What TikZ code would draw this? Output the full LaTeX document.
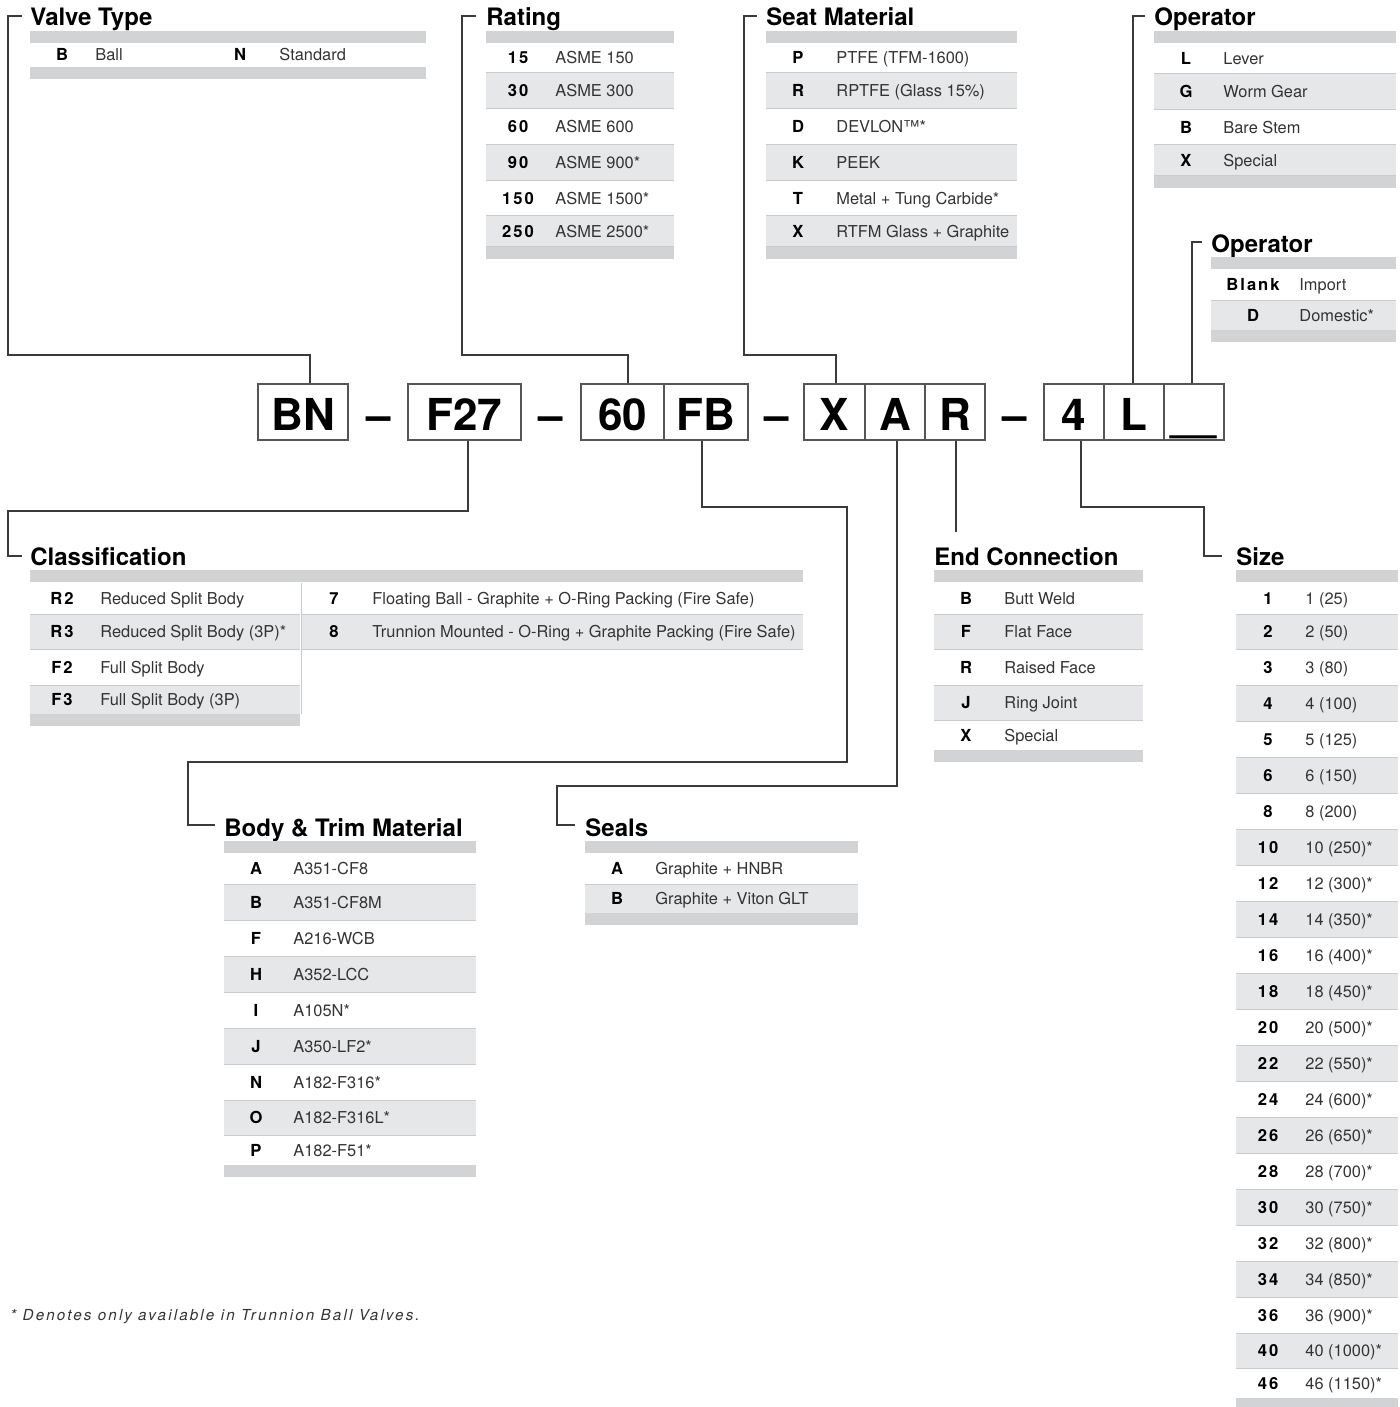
\documentclass[tikz,border=0pt]{standalone}
\usepackage{fontspec}
\setmainfont{TeX Gyre Heros}
\definecolor{bargray}{HTML}{D1D3D4}
\definecolor{rowgray}{HTML}{E6E7E8}
\definecolor{sepgray}{HTML}{C9CACC}
\definecolor{linegray}{HTML}{3A3A3A}
\definecolor{descgray}{HTML}{333333}
\definecolor{boxgray}{HTML}{555555}
\newcommand\titlefont{\fontsize{12}{14}\selectfont\bfseries}
\newcommand\descfont{\fontsize{8.2}{10}\selectfont}
\newcommand\codefont{\fontsize{8.3}{10}\selectfont\bfseries\addfontfeatures{LetterSpace=12}}
\newcommand\bigfont{\fontsize{22}{26}\selectfont\bfseries}
\newcommand\footfont{\fontsize{7.6}{9}\selectfont\itshape\addfontfeatures{LetterSpace=14}}
\tikzset{
  conn/.style={draw=linegray, line width=0.65pt},
  ttl/.style={font=\titlefont, anchor=base west, inner sep=0pt, text=black},
  cd/.style={font=\codefont, anchor=base, inner sep=0pt, text=black},
  ds/.style={font=\descfont, anchor=base west, inner sep=0pt, text=descgray},
  cell/.style={draw=boxgray, line width=0.8pt, minimum height=28pt, inner sep=0pt},
  big/.style={font=\bigfont, anchor=base, inner sep=0pt, text=black},
  foot/.style={font=\footfont, anchor=base west, inner sep=0pt, text=descgray},
  sep/.style={draw=sepgray, line width=0.5pt}
}
% #1 x1, #2 x2, #3 ytop
\newcommand\tbar[3]{\fill[bargray] (#1,#3) rectangle (#2,#3+12);}
% #1 prefix, #2 x1, #3 x2, #4 xcode, #5 xdesc, #6 rows
\newcommand\drawtable[6]{%
  \foreach \ra/\rb/\rc/\rd/\re [count=\i] in {#6} {
    \ifnum\re=1
      \fill[rowgray] (#2,\ra) rectangle (#3,\rb);
      \draw[sep] (#2,\ra) -- (#3,\ra) (#2,\rb) -- (#3,\rb);
    \fi
    \node[cd] (#1c\i) at (#4,{(\ra+\rb)/2+6}) {\rc};
    \node[ds] (#1d\i) at (#5,{(\ra+\rb)/2+6}) {\rd};
  }}
\begin{document}
\begin{tikzpicture}[x=0.5pt,y=-0.5pt]
\useasboundingbox (0,0) rectangle (1400,1407);

% ---------- code boxes ----------
\node[cell, minimum width=45pt] (bn) at (303,412) {};
\node[cell, minimum width=56.5pt] (f27) at (464.5,412) {};
\node[cell, minimum width=41.5pt] (c60) at (622.5,412) {};
\node[cell, minimum width=42pt] (cfb) at (706,412) {};
\node[cell, minimum width=30.5pt] (cx) at (834.5,412) {};
\node[cell, minimum width=30pt] (ca) at (895,412) {};
\node[cell, minimum width=30pt] (cr) at (955,412) {};
\node[cell, minimum width=30pt] (c4) at (1074,412) {};
\node[cell, minimum width=30pt] (cl) at (1134,412) {};
\node[cell, minimum width=30pt] (cu) at (1194,412) {};

\node[big] (tbn) at (303,430) {BN};
\node[big] (tf27) at (464.5,430) {F27};
\node[big] (t60) at (622.5,430) {60};
\node[big] (tfb) at (706,430) {FB};
\node[big] (tx) at (834.5,430) {X};
\node[big] (ta) at (895,430) {A};
\node[big] (tr) at (955,430) {R};
\node[big] (t4) at (1074,430) {4};
\node[big] (tl) at (1134,430) {L};
\node[big] (tu) at (1194,430) {\scalebox{1.8}[1]{\textunderscore}};
\node[big] (d1) at (379,430) {–};
\node[big] (d2) at (551,430) {–};
\node[big] (d3) at (777,430) {–};
\node[big] (d4) at (1015,430) {–};

% ---------- titles ----------
\node[ttl] (vt) at (30,26) {Valve Type};
\node[ttl] (rt) at (486,26) {Rating};
\node[ttl] (sm) at (766,26) {Seat Material};
\node[ttl] (op) at (1154,26) {Operator};
\node[ttl] (op2) at (1211,252) {Operator};
\node[ttl] (cls) at (30,565) {Classification};
\node[ttl] (ec) at (934,565) {End Connection};
\node[ttl] (sz) at (1236,565) {Size};
\node[ttl] (btm) at (224,836) {Body \& Trim Material};
\node[ttl] (sl) at (585,836) {Seals};

% ---------- connector ends ----------
\coordinate (kvt) at (22,16);
\coordinate (krt) at (476,16);
\coordinate (ksm) at (757,16);
\coordinate (kop) at (1145,16);
\coordinate (kop2) at (1202,242);
\coordinate (kcls) at (22,556);
\coordinate (kec) at (956,532);
\coordinate (ksz) at (1222,556);
\coordinate (kbtm) at (215,825);
\coordinate (ksl) at (575,825);

\draw[conn] ([xshift=3.5pt]bn.north) |- (8,355) -- (8,16) -- (kvt);
\draw[conn] ([xshift=2.75pt]c60.north) |- (462,355) -- (462,16) -- (krt);
\draw[conn] ([xshift=0.75pt]cx.north) |- (744,355) -- (744,16) -- (ksm);
\draw[conn] ([xshift=-0.5pt]cl.north) |- (kop);
\draw[conn] ([xshift=-1pt]cu.north) |- (kop2);
\draw[conn] ([xshift=1.75pt]f27.south) |- (8,511) -- (8,556) -- (kcls);
\draw[conn] ([xshift=-2pt]cfb.south) |- (847,507) -- (847,762) -- (188,762) -- (188,825) -- (kbtm);
\draw[conn] ([xshift=1pt]ca.south) |- (557,786) -- (557,825) -- (ksl);
\draw[conn] ([xshift=0.5pt]cr.south) -- (kec);
\draw[conn] ([xshift=3.5pt]c4.south) |- (1204,507) -- (1204,556) -- (ksz);

% ---------- Valve Type ----------
\tbar{30}{426}{31}
\tbar{30}{426}{67}
\node[cd] (vtc1) at (62,61) {B};
\node[ds] (vtd1) at (95,61) {Ball};
\node[cd] (vtc2) at (240,61) {N};
\node[ds] (vtd2) at (279,61) {Standard};

% ---------- Rating ----------
\tbar{486}{674}{31}
\drawtable{rt}{486}{674}{518}{555}{43/73/15/ASME 150/0, 73/109/30/ASME 300/1, 109/145/60/ASME 600/0, 145/181/90/ASME 900*/1, 181/216/150/ASME 1500*/0, 216/247/250/ASME 2500*/1}
\tbar{486}{674}{247}

% ---------- Seat Material ----------
\tbar{766}{1017}{31}
\drawtable{sm}{766}{1017}{798}{836}{43/73/P/PTFE (TFM-1600)/0, 73/109/R/RPTFE (Glass 15\%)/1, 109/145/D/DEVLON™*/0, 145/181/K/PEEK/1, 181/216/T/Metal + Tung Carbide*/0, 216/247/X/RTFM Glass + Graphite/1}
\tbar{766}{1017}{247}

% ---------- Operator ----------
\tbar{1154}{1396}{31}
\drawtable{op}{1154}{1396}{1186}{1223}{43/74/L/Lever/0, 74/110/G/Worm Gear/1, 110/145/B/Bare Stem/0, 145/176/X/Special/1}
\tbar{1154}{1396}{176}

% ---------- Operator 2 ----------
\tbar{1211}{1396}{257}
\drawtable{oq}{1211}{1396}{1253}{1299}{269/300/Blank/Import/0, 300/330/D/Domestic*/1}
\tbar{1211}{1396}{330}

% ---------- Classification ----------
\tbar{30}{803}{570}
\drawtable{cla}{30}{300}{62}{100}{583/614/R2/Reduced Split Body/0, 614/649/R3/Reduced Split Body (3P)*/1, 649/685/F2/Full Split Body/0, 685/714/F3/Full Split Body (3P)/1}
\drawtable{clb}{302}{803}{334}{372}{583/614/7/Floating Ball - Graphite + O-Ring Packing (Fire Safe)/0, 614/649/8/Trunnion Mounted - O-Ring + Graphite Packing (Fire Safe)/1}
\draw[sep] (301,583) -- (301,714);
\tbar{30}{300}{714}

% ---------- End Connection ----------
\tbar{934}{1143}{570}
\drawtable{ec}{934}{1143}{966}{1004}{583/614/B/Butt Weld/0, 614/649/F/Flat Face/1, 649/685/R/Raised Face/0, 685/720/J/Ring Joint/1, 720/750/X/Special/0}
\tbar{934}{1143}{750}

% ---------- Size ----------
\tbar{1236}{1398}{570}
\drawtable{sz}{1236}{1398}{1268}{1305}{583/614/1/1 (25)/0, 614/649/2/2 (50)/1, 649/685/3/3 (80)/0, 685/721/4/4 (100)/1, 721/757/5/5 (125)/0, 757/793/6/6 (150)/1, 793/829/8/8 (200)/0, 829/865/10/10 (250)*/1, 865/901/12/12 (300)*/0, 901/937/14/14 (350)*/1, 937/973/16/16 (400)*/0, 973/1009/18/18 (450)*/1, 1009/1045/20/20 (500)*/0, 1045/1081/22/22 (550)*/1, 1081/1117/24/24 (600)*/0, 1117/1153/26/26 (650)*/1, 1153/1189/28/28 (700)*/0, 1189/1225/30/30 (750)*/1, 1225/1261/32/32 (800)*/0, 1261/1297/34/34 (850)*/1, 1297/1333/36/36 (900)*/0, 1333/1368/40/40 (1000)*/1, 1368/1398/46/46 (1150)*/0}
\fill[bargray] (1236,1398) rectangle (1398,1407);

% ---------- Body & Trim ----------
\tbar{224}{476}{841}
\drawtable{bt}{224}{476}{256}{293}{853/884/A/A351-CF8/0, 884/920/B/A351-CF8M/1, 920/956/F/A216-WCB/0, 956/992/H/A352-LCC/1, 992/1028/I/A105N*/0, 1028/1064/J/A350-LF2*/1, 1064/1100/N/A182-F316*/0, 1100/1135/O/A182-F316L*/1, 1135/1165/P/A182-F51*/0}
\tbar{224}{476}{1165}

% ---------- Seals ----------
\tbar{585}{858}{841}
\drawtable{se}{585}{858}{617}{655}{853/884/A/Graphite + HNBR/0, 884/913/B/Graphite + Viton GLT/1}
\tbar{585}{858}{913}

% ---------- footnote ----------
\node[foot] (fn) at (10,1320) {* Denotes only available in Trunnion Ball Valves.};
\end{tikzpicture}
\end{document}
